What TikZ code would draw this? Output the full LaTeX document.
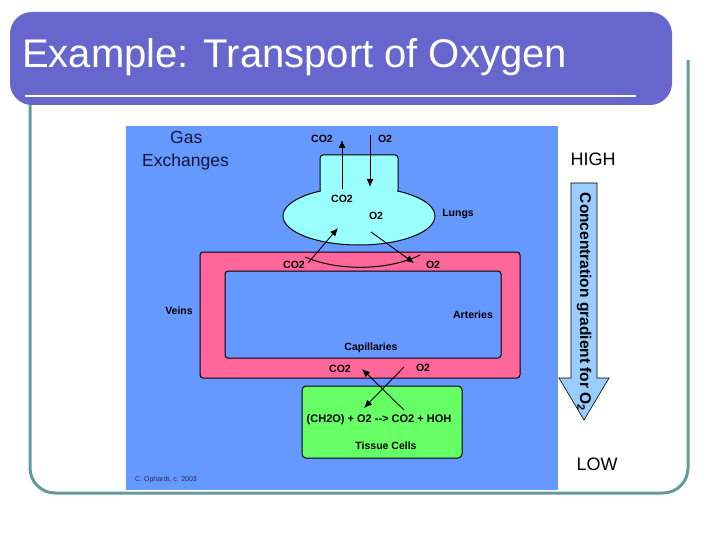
\documentclass[tikz,border=0pt]{standalone}
\usepackage{fontspec}
\setmainfont{Liberation Sans}
\usetikzlibrary{arrows.meta,shapes.geometric}
\begin{document}
\begin{tikzpicture}[x=1pt,y=-1pt,
  lbl/.style={font=\fontsize{10.5}{12}\selectfont\bfseries,inner sep=0pt},
  arr/.style={-{Latex[length=8pt,width=7pt]},line width=0.9pt},
  box/.style={draw=black,line width=1pt}]
\useasboundingbox (0,0) rectangle (720,540);
% slide frame
\draw[line width=3pt,color={rgb,255:red,102;green,153;blue,153},rounded corners=25pt] (30,60) -- (30,493) -- (688,493) -- (688,60);
\fill[color={rgb,255:red,102;green,102;blue,204},rounded corners=22pt] (10,12) -- (10,105) -- (672,105) -- (672,12) -- cycle;
\draw[white,line width=2pt] (25,96) -- (636,96);
\node[anchor=west,white,font=\fontsize{40}{44}\selectfont,inner sep=0pt] (title) at (22,57) {Example: Transport of Oxygen};
% picture
\fill[color={rgb,255:red,102;green,153;blue,255}] (126,126) rectangle (558,490);
% lungs
\node[box,fill={rgb,255:red,153;green,255;blue,255},rounded corners=3pt,minimum width=78pt,minimum height=50pt] (lungtop) at (359,180) {};
\node[box,ellipse,fill={rgb,255:red,153;green,255;blue,255},minimum width=152pt,minimum height=58pt] (lung) at (359,216) {};
\fill[color={rgb,255:red,153;green,255;blue,255}] (321,186) rectangle (397,205);
% loop
\fill[color={rgb,255:red,255;green,102;blue,153},draw=black,line width=1pt,rounded corners=3pt,even odd rule]
  (200,252) rectangle (520,378) (225,271) rectangle (501,358);
\draw[line width=1pt] (305,257) .. controls (340,272) and (390,270) .. (420,255);
% tissue
\node[box,fill={rgb,255:red,102;green,255;blue,102},rounded corners=4pt,minimum width=160pt,minimum height=72pt] (tissue) at (382,422) {};
% arrows
\coordinate (a1) at (342,189); \coordinate (a2) at (342,140);
\coordinate (b1) at (370,135); \coordinate (b2) at (370,187);
\coordinate (c1) at (308,263); \coordinate (c2) at (338,228);
\coordinate (d1) at (371,232); \coordinate (d2) at (414,263);
\coordinate (e1) at (404,367); \coordinate (e2) at (364,408);
\coordinate (f1) at (404,410); \coordinate (f2) at (362,369);
\draw[arr] (a1) -- (a2); \draw[arr] (b1) -- (b2);
\draw[arr] (c1) -- (c2); \draw[arr] (d1) -- (d2);
\draw[arr] (e1) -- (e2); \draw[arr] (f1) -- (f2);
% labels
\node[anchor=west,font=\fontsize{17.5}{23}\selectfont,color={rgb,255:red,20;green,20;blue,60},align=left,inner sep=0pt] (gas) at (142,151) {\hspace*{28pt}Gas\\Exchanges};
\node[lbl] (t1) at (322,139) {CO2};
\node[lbl] (t2) at (385,139) {O2};
\node[lbl] (t3) at (342,199) {CO2};
\node[lbl] (t4) at (376,216) {O2};
\node[lbl] (t5) at (458,214) {Lungs};
\node[lbl] (t6) at (294,265) {CO2};
\node[lbl] (t7) at (433,265) {O2};
\node[lbl] (t8) at (179,311) {Veins};
\node[lbl] (t9) at (473,315) {Arteries};
\node[lbl] (t10) at (371,348) {Capillaries};
\node[lbl] (t11) at (340,369) {CO2};
\node[lbl] (t12) at (423,368) {O2};
\node[lbl,font=\fontsize{11}{12}\selectfont\bfseries] (t13) at (379,420) {(CH2O) + O2 -{}-{}> CO2 + HOH};
\node[lbl] (t14) at (386,446) {Tissue Cells};
\node[lbl,font=\fontsize{7}{8}\selectfont,color={rgb,255:red,40;green,40;blue,80}] (t15) at (166,480) {C. Ophardt, c. 2003};
% gradient arrow
\draw[fill={rgb,255:red,153;green,204;blue,255},line width=0.6pt] (571,183) -- (597,183) -- (597,378) -- (609,378) -- (584,420) -- (559,378) -- (571,378) -- cycle;
\node[rotate=-90,font=\fontsize{15.5}{18}\selectfont\bfseries,inner sep=0pt] (grad) at (584,302) {Concentration gradient for O$_\mathbf{2}$};
\node[font=\fontsize{18}{20}\selectfont,inner sep=0pt] (high) at (593,159) {HIGH};
\node[font=\fontsize{18}{20}\selectfont,inner sep=0pt] (low) at (597,464) {LOW};
\end{tikzpicture}
\end{document}
